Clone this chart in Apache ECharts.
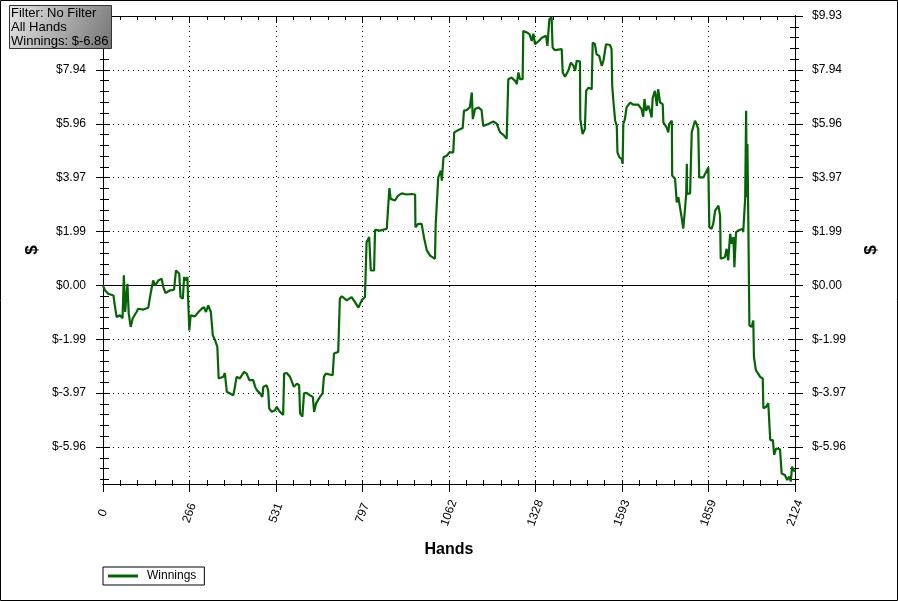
<!DOCTYPE html>
<html><head><meta charset="utf-8">
<script src="https://cdn.jsdelivr.net/npm/echarts@6/dist/echarts.min.js"></script>
<style>html,body{margin:0;padding:0;background:#fff}#c{width:898px;height:601px}</style>
</head><body><div id="c"></div>
<script>
const hands = [
0,6,16,32,37,42,52,60,64,68,
75,79,85,91,103,108,124,139,146,154,
160,170,180,185,192,206,218,224,229,234,
238,245,249,255,259,262,265,269,282,293,
298,303,310,316,323,331,337,344,351,355,
369,374,380,400,405,410,420,426,433,441,
449,461,467,472,482,489,492,502,507,510,
518,528,533,543,553,556,564,574,586,595,
602,605,612,617,625,635,644,648,654,666,
674,678,684,705,709,722,727,733,748,763,
773,784,794,804,809,817,822,832,835,850,
871,879,883,896,906,917,932,948,958,959,
968,978,985,994,1004,1019,1021,1026,1029,1037,
1040,1045,1055,1063,1075,1078,1091,1104,1108,1116,
1126,1132,1135,1142,1152,1162,1167,1183,1198,1208,
1219,1229,1239,1241,1244,1254,1265,1270,1275,1280,
1288,1290,1301,1309,1316,1321,1326,1336,1347,1360,
1364,1370,1377,1380,1387,1408,1411,1418,1428,1436,
1444,1449,1454,1464,1465,1472,1479,1483,1490,1500,
1503,1510,1515,1523,1531,1536,1544,1556,1561,1563,
1566,1572,1577,1579,1585,1592,1595,1597,1602,1607,
1618,1628,1643,1653,1658,1662,1667,1674,1679,1684,
1687,1691,1694,1700,1704,1710,1718,1720,1730,1735,
1738,1746,1747,1756,1761,1766,1771,1776,1781,1786,
1790,1792,1793,1802,1807,1817,1822,1827,1830,1843,
1848,1853,1858,1861,1868,1873,1879,1889,1894,1896,
1902,1909,1914,1919,1925,1930,1935,1938,1943,1950,
1955,1964,1965,1971,1974,1976,1978,1981,1984,1991,
1996,1998,2004,2011,2017,2025,2027,2035,2042,2047,
2048,2056,2060,2066,2078,2083,2093,2100,2107,2111,
2115,2119,2124];
const winnings = [
0,-0.18,-0.31,-0.37,-0.80,-1.17,-1.10,-1.21,0.37,-0.98,
0.06,-1.04,-1.53,-1.22,-0.98,-0.86,-0.89,-0.82,-0.31,0.18,
0,0.18,0.25,-0.06,-0.28,-0.18,-0.16,0.55,0.61,0.43,
-0.43,-0.49,0.31,0.18,0.31,-0.74,-1.66,-1.10,-1.14,-0.98,
-1.04,-0.86,-0.80,-0.98,-0.74,-0.98,-1.84,-2.02,-2.27,-3.43,
-3.37,-3.23,-3.92,-4.05,-3.74,-3.37,-3.43,-3.49,-3.19,-3.25,
-3.49,-3.49,-3.74,-3.86,-3.98,-4.11,-3.74,-3.68,-3.86,-4.53,
-4.66,-4.60,-4.48,-4.66,-4.78,-3.25,-3.23,-3.37,-3.74,-3.62,
-3.68,-4.72,-4.84,-3.98,-3.96,-4.05,-4.11,-4.66,-4.35,-4.11,
-3.98,-3.37,-3.25,-3.31,-2.51,-2.45,-0.49,-0.40,-0.55,-0.43,
-0.61,-0.82,-0.55,-0.43,1.59,1.78,0.55,0.55,2.05,2.02,
2.09,3.59,3.19,3.13,3.31,3.39,3.35,3.37,3.35,2.14,
2.27,2.27,1.78,1.29,1.10,0.98,2.21,2.21,3.98,4.23,
3.86,4.72,4.78,4.90,4.90,5.64,5.73,5.80,6.44,6.46,
6.56,7.11,6.13,6.50,6.56,6.46,5.88,5.95,6.04,5.97,
5.64,5.55,5.40,6.32,7.60,7.66,7.54,7.42,7.85,7.60,
7.60,9.38,9.32,9.26,9.01,9.28,8.89,8.99,9.13,9.20,
8.83,9.81,9.87,8.77,8.67,8.71,7.85,7.69,7.91,8.21,
8.09,7.91,8.28,8.25,6.13,5.58,5.76,7.17,7.29,7.23,
8.95,8.89,8.52,8.46,8.09,8.28,8.89,8.86,8.71,7.36,
6.87,6.07,5.88,4.90,4.72,4.66,4.48,5.95,6.13,6.56,
6.74,6.66,6.66,6.50,6.22,6.87,6.44,6.62,6.44,6.19,
6.90,6.87,7.17,6.62,7.23,6.74,6.68,6.01,5.82,5.64,
5.95,6.07,4.05,3.92,3.06,3.25,3.25,2.51,2.09,2.76,
3.37,4.48,3.37,3.39,5.64,6.07,5.95,5.76,3.98,3.98,
4.11,4.23,4.35,2.14,2.09,2.27,2.76,2.94,2.57,0.98,
0.92,1.04,1.35,0.92,1.90,1.53,1.78,0.67,1.96,2.02,
1.96,2.09,1.96,3.19,6.44,3.25,5.21,2.02,-1.47,-1.53,
-1.29,-2.64,-3.13,-3.25,-3.37,-3.43,-4.53,-4.48,-4.35,-4.41,
-5.70,-5.70,-6.25,-6.01,-6.04,-6.93,-6.99,-7.17,-7.05,-7.23,
-6.68,-6.80,-6.86];
const yTicks = [-5.958,-3.972,-1.986,0,1.986,3.972,5.958,7.944,9.93];
const yMin = -7.32, yMax = 9.93;
const xMin = 0, xMax = 2124, xStep = 265.5;
const seriesName = 'Winnings';
const xName = 'Hands', yName = '$';
const infoLines = ['Filter: No Filter', 'All Hands', 'Winnings: $-6.86'];

// minor tick positions derived from the major ticks (5 subdivisions)
const sub = (yTicks[1] - yTicks[0]) / 5;
const yMinor = [];
for (let i = 0; i < yTicks.length - 1; i++) {
  for (let k = 1; k < 5; k++) yMinor.push(+(yTicks[i] + k * sub).toFixed(4));
}
for (let v = yTicks[0] - sub; v > yMin; v -= sub) yMinor.push(+v.toFixed(4));

const FONT = 'Liberation Sans, Arial, sans-serif';
const dotted = { color: '#000', type: [1, 4], width: 1 };
const axLine = { show: true, onZero: false, lineStyle: { color: '#000', width: 1 } };

function yAx(pos, extra) {
  return Object.assign({
    type: 'value', position: pos, min: yMin, max: yMax,
    axisLine: axLine, axisLabel: { show: false }, axisTick: { show: false },
    splitLine: { show: false }, minorTick: { show: false }
  }, extra);
}
function tickOpt(vals, inside, len) {
  return { show: true, inside: inside, length: len, customValues: vals, lineStyle: { color: '#000', width: 1 } };
}
const yLabel = (margin) => ({
  show: true, customValues: yTicks, margin: margin, color: '#000', fontSize: 12, fontFamily: FONT,
  formatter: v => '$' + v.toFixed(2)
});
const yNameOpt = (gap) => ({
  name: yName, nameLocation: 'middle', nameGap: gap, nameRotate: 90,
  nameTextStyle: { fontSize: 17, fontWeight: 'bold', color: '#000', fontFamily: FONT }
});

const yAxes = [
  yAx('left', Object.assign({ axisLabel: yLabel(17), axisTick: tickOpt(yTicks, false, 7), splitLine: { show: true, lineStyle: dotted } }, yNameOpt(62))),
  yAx('left', { axisTick: tickOpt(yTicks, true, 7) }),
  yAx('left', { axisTick: tickOpt(yMinor, false, 3) }),
  yAx('left', { axisTick: tickOpt(yMinor, true, 6) }),
  yAx('right', Object.assign({ axisLabel: yLabel(17), axisTick: tickOpt(yTicks, false, 8) }, yNameOpt(68))),
  yAx('right', { axisTick: tickOpt(yTicks, true, 7) }),
  yAx('right', { axisTick: tickOpt(yMinor, false, 4) }),
  yAx('right', { axisTick: tickOpt(yMinor, true, 5) })
];

function xAx(pos, extra) {
  return Object.assign({
    type: 'value', position: pos, min: xMin, max: xMax, interval: xStep,
    axisLine: axLine, axisLabel: { show: false }, splitLine: { show: false }
  }, extra);
}
const xAxes = [
  xAx('bottom', {
    name: xName, nameLocation: 'middle', nameGap: 58,
    nameTextStyle: { fontSize: 16, fontWeight: 'bold', color: '#000', fontFamily: FONT },
    axisLabel: { show: true, rotate: 70, margin: 29, align: 'center', verticalAlign: 'middle',
      color: '#000', fontSize: 12, fontFamily: FONT, formatter: v => String(Math.round(v)) },
    axisTick: { show: true, inside: false, length: 8, lineStyle: { color: '#000' } },
    minorTick: { show: true, splitNumber: 5, length: 2, lineStyle: { color: '#000' } },
    splitLine: { show: true, lineStyle: dotted }
  }),
  xAx('bottom', {
    axisTick: { show: true, inside: true, length: 4, lineStyle: { color: '#000' } },
    minorTick: { show: true, splitNumber: 5, length: 4, lineStyle: { color: '#000' } }
  }),
  xAx('top', {
    axisTick: { show: true, inside: true, length: 7, lineStyle: { color: '#000' } },
    minorTick: { show: true, splitNumber: 5, length: 4, lineStyle: { color: '#000' } }
  })
];

const chart = echarts.init(document.getElementById('c'), null, { renderer: 'canvas' });
chart.setOption({
  animation: false,
  backgroundColor: '#fff',
  grid: { left: 103, right: 103, top: 16, bottom: 117, containLabel: false },
  xAxis: xAxes,
  yAxis: yAxes,
  legend: {
    show: true, left: 103, top: 567, orient: 'horizontal',
    data: [{ name: seriesName, icon: 'rect' }],
    itemWidth: 30, itemHeight: 3,
    borderColor: '#000', borderWidth: 1, padding: [3, 8, 3, 5],
    textStyle: { color: '#000', fontSize: 12, fontFamily: FONT, padding: [0, 0, 0, 4] }
  },
  series: [{
    name: seriesName, type: 'line', xAxisIndex: 0, yAxisIndex: 0,
    data: hands.map((h, i) => [h, winnings[i]]),
    showSymbol: false, symbol: 'none',
    lineStyle: { color: '#066406', width: 2.2 },
    itemStyle: { color: '#066406' },
    z: 3,
    markLine: {
      silent: true, symbol: ['none', 'none'], label: { show: false },
      lineStyle: { color: '#000', type: 'solid', width: 1 },
      data: [{ yAxis: 0 }], z: 2
    }
  }],
  graphic: [
    { type: 'rect', z: 100, zlevel: 1, shape: { x: 0.5, y: 0.5, width: 897, height: 600 },
      style: { fill: 'none', stroke: '#000', lineWidth: 1 } },
    { type: 'rect', z: 100, zlevel: 1, left: 9, top: 5, shape: { x: 0, y: 0, width: 102, height: 43 },
      style: { stroke: '#333', lineWidth: 1,
        fill: new echarts.graphic.LinearGradient(0, 0, 1, 1, [
          { offset: 0, color: '#e6e6e6' }, { offset: 1, color: '#747474' }]) } },
    ...infoLines.map((t, i) => ({ type: 'text', z: 101, zlevel: 1, left: 11, top: 6.5 + i * 14,
      style: { text: t, fill: '#000', font: '13px ' + FONT } }))
  ]
});
</script></body></html>
